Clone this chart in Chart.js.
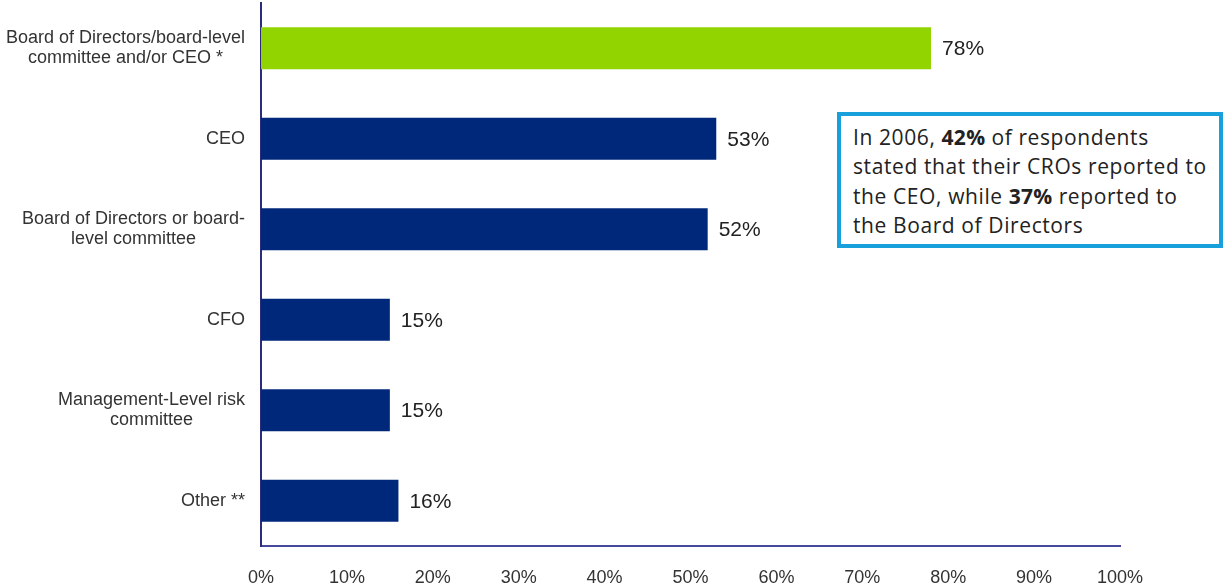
<!DOCTYPE html>
<html>
<head>
<meta charset="utf-8">
<script src="https://cdn.jsdelivr.net/npm/chart.js@4"></script>
<style>
  html, body { margin: 0; padding: 0; background: #fff; }
  .wrap { position: relative; width: 1226px; height: 588px; }
  .note {
    position: absolute; left: 837px; top: 112px; width: 386px; height: 136px;
    border: 4px solid #17a0db; background: #fff; box-sizing: border-box;
    font-family: "Open Sans", "Noto Sans", sans-serif; font-size: 21px; line-height: 29.3px;
    letter-spacing: 0.6px; color: #222; padding: 7px 0 0 12px; white-space: nowrap;
  }
  .note b { font-weight: 700; letter-spacing: 0.3px; }
</style>
</head>
<body>
<div class="wrap">
  <canvas id="reportChart" width="1226" height="588"></canvas>
  <div class="note">In 2006, <b>42%</b> of respondents<br>stated that their CROs reported to<br>the CEO, while <b>37%</b> reported to<br>the Board of Directors</div>
</div>
<script>
// Who the CRO reports to
const categories = [
  ['Board of Directors/board-level', 'committee and/or CEO *'],
  ['CEO'],
  ['Board of Directors or board-', 'level committee'],
  ['CFO'],
  ['Management-Level risk', 'committee'],
  ['Other **']
];
const shares = [78, 53, 52, 15, 15, 16];
const barColors = ['#92d400', '#00287a', '#00287a', '#00287a', '#00287a', '#00287a'];
const xTicks = [0, 10, 20, 30, 40, 50, 60, 70, 80, 90, 100];

const fontFamily = '"Liberation Sans", Arial, sans-serif';
const labelFont = '18px ' + fontFamily;
const valueFont = '21px ' + fontFamily;

// Category names: multi-line blocks centred on themselves, right edge against the axis
const categoryLabels = {
  id: 'categoryLabels',
  afterDraw(chart) {
    const ctx = chart.ctx;
    const yScale = chart.scales.y;
    const right = chart.chartArea.left - 16;
    const lineH = 19.5;
    ctx.save();
    ctx.font = labelFont;
    ctx.fillStyle = '#333';
    ctx.textAlign = 'center';
    ctx.textBaseline = 'middle';
    categories.forEach((lines, i) => {
      const y = yScale.getPixelForTick(i);
      const w = Math.max(...lines.map(l => ctx.measureText(l).width));
      const cx = right - w / 2;
      const top = y - (lines.length - 1) * lineH / 2;
      lines.forEach((l, j) => ctx.fillText(l, cx, top + j * lineH));
    });
    ctx.restore();
  }
};

// Percent labels to the right of each bar
const valueLabels = {
  id: 'valueLabels',
  afterDatasetsDraw(chart) {
    const ctx = chart.ctx;
    const meta = chart.getDatasetMeta(0);
    ctx.save();
    ctx.font = valueFont;
    ctx.fillStyle = '#222';
    ctx.textAlign = 'left';
    ctx.textBaseline = 'middle';
    meta.data.forEach((bar, i) => {
      ctx.fillText(shares[i] + '%', bar.x + 11, bar.y + 1);
    });
    ctx.restore();
  }
};

new Chart(document.getElementById('reportChart'), {
  type: 'bar',
  data: {
    labels: categories,
    datasets: [{
      data: shares,
      backgroundColor: barColors,
      borderWidth: 0,
      categoryPercentage: 1,
      barPercentage: 0.465
    }]
  },
  options: {
    indexAxis: 'y',
    responsive: false,
    animation: false,
    layout: { padding: { top: 3, right: 106, bottom: 0, left: 0 } },
    plugins: {
      legend: { display: false },
      tooltip: { enabled: false }
    },
    scales: {
      x: {
        min: 0,
        max: 100,
        afterBuildTicks: scale => { scale.ticks = xTicks.map(v => ({ value: v })); },
        afterFit: scale => { scale.height = 42; },
        grid: { display: false, drawTicks: false },
        border: { display: true, color: '#48489a', width: 2 },
        ticks: {
          padding: 21,
          color: '#333',
          font: { family: fontFamily, size: 18 },
          callback: v => v + '%'
        }
      },
      y: {
        afterFit: scale => { scale.width = 261; },
        grid: { display: false, drawTicks: false },
        border: { display: true, color: '#2b2b7c', width: 2 },
        ticks: { display: false }
      }
    }
  },
  plugins: [categoryLabels, valueLabels]
});
</script>
</body>
</html>
